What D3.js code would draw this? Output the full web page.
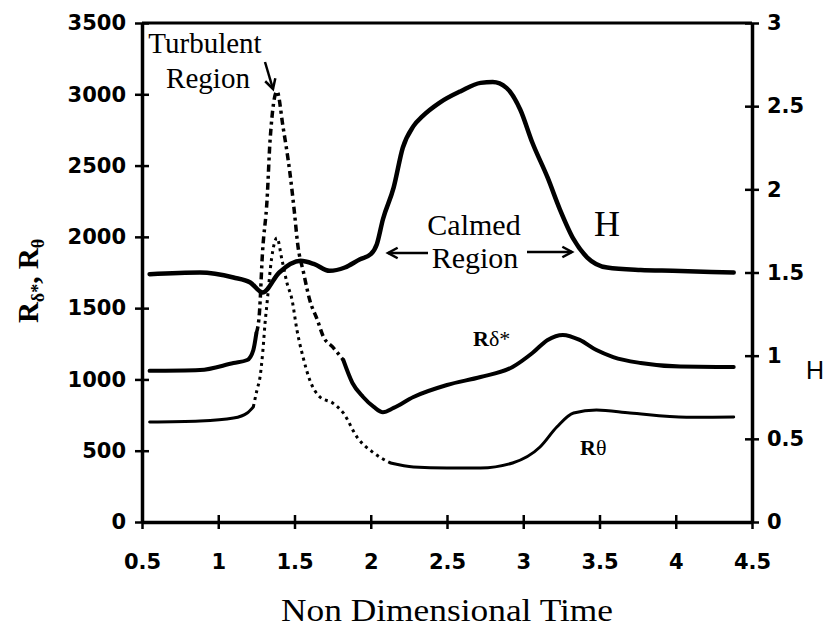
<!DOCTYPE html>
<html>
<head>
<meta charset="utf-8">
<style>
  body { margin: 0; background: #fff; }
  .tick text { font-family: "DejaVu Sans", "Liberation Sans", Arial, sans-serif; font-weight: bold; font-size: 21px; }
  .serif { font-family: "Liberation Serif", "Times New Roman", serif; }
</style>
</head>
<body>
<script src="https://d3js.org/d3.v7.min.js"></script>
<script>
// non dimensional time (x) and values
const hTime = [0.55, 0.88, 1.10, 1.21, 1.29, 1.40, 1.54, 1.63, 1.73, 1.83, 1.93, 2.00, 2.04, 2.08, 2.15, 2.21, 2.28, 2.34, 2.45, 2.59, 2.72, 2.80, 2.89, 2.98, 3.06, 3.16, 3.24, 3.33, 3.42, 3.55, 3.77, 3.98, 4.38]
const hVals = [1.49, 1.50, 1.47, 1.44, 1.38, 1.50, 1.57, 1.55, 1.51, 1.53, 1.58, 1.61, 1.67, 1.82, 2.01, 2.25, 2.38, 2.44, 2.52, 2.59, 2.64, 2.645, 2.61, 2.48, 2.28, 2.07, 1.88, 1.70, 1.59, 1.53, 1.515, 1.51, 1.50]

const rdTime = [0.55, 0.88, 1.10, 1.19, 1.23, 1.25, 1.27, 1.29, 1.32, 1.34, 1.385, 1.425, 1.47, 1.50, 1.52, 1.56, 1.60, 1.65, 1.69, 1.75, 1.82, 1.88, 1.95, 2.02, 2.08, 2.15, 2.28, 2.50, 2.72, 2.93, 3.06, 3.16, 3.26, 3.37, 3.48, 3.59, 3.77, 4.03, 4.38]
const rdVals = [1060, 1066, 1115, 1136, 1206, 1325, 1466, 1887, 2258, 2680, 3020, 2770, 2448, 2167, 1957, 1746, 1557, 1417, 1298, 1228, 1136, 975, 877, 807, 770, 800, 877, 961, 1017, 1087, 1185, 1277, 1312, 1277, 1206, 1157, 1115, 1090, 1087]

const rtTime = [0.55, 0.88, 1.10, 1.19, 1.23, 1.254, 1.274, 1.293, 1.307, 1.32, 1.35, 1.385, 1.418, 1.451, 1.484, 1.516, 1.556, 1.60, 1.667, 1.75, 1.82, 1.91, 2.02, 2.13, 2.28, 2.50, 2.72, 2.93, 3.11, 3.22, 3.33, 3.48, 3.70, 4.07, 4.38]
const rtVals = [701, 708, 729, 765, 807, 926, 1017, 1206, 1396, 1536, 1850, 1992, 1838, 1676, 1557, 1347, 1157, 996, 877, 835, 765, 596, 484, 414, 386, 379, 379, 414, 526, 666, 765, 786, 765, 735, 736]

const xTicks = [0.5, 1, 1.5, 2, 2.5, 3, 3.5, 4, 4.5]
const leftTicks = [0, 500, 1000, 1500, 2000, 2500, 3000, 3500]
const rightTicks = [0, 0.5, 1, 1.5, 2, 2.5, 3]

const w = 832, h = 628
const pl = 142, pr = 752, pt = 23, pb = 522

const svg = d3.select('body').append('svg').attr('width', w).attr('height', h)

const x = d3.scaleLinear().domain([0.5, 4.5]).range([pl, pr])
const yL = d3.scaleLinear().domain([0, 3500]).range([pb, pt])
const yR = d3.scaleLinear().domain([0, 3]).range([pb, pt])

// frame top
svg.append('line').attr('x1', pl).attr('x2', pr).attr('y1', pt).attr('y2', pt)
   .attr('stroke', '#000').attr('stroke-width', 3)

const styleAxis = (g) => {
  g.select('.domain').attr('stroke-width', 3.5)
  g.selectAll('.tick line').attr('stroke-width', 2.5)
}
const plain = d => String(d)

svg.append('g').attr('transform', 'translate(0,' + pb + ')')
   .call(d3.axisBottom(x).tickValues(xTicks).tickSize(7).tickSizeOuter(0).tickPadding(25).tickFormat(plain))
   .call(styleAxis)
   .call(g => g.selectAll('.tick line').attr('y1', -7))

svg.append('g').attr('transform', 'translate(' + pl + ',0)')
   .call(d3.axisLeft(yL).tickValues(leftTicks).tickSize(7).tickSizeOuter(0).tickPadding(9).tickFormat(plain))
   .call(styleAxis)
   .call(g => g.selectAll('.tick line').attr('x1', 7))

svg.append('g').attr('transform', 'translate(' + pr + ',0)')
   .call(d3.axisRight(yR).tickValues(rightTicks).tickSize(7).tickSizeOuter(0).tickPadding(8).tickFormat(plain))
   .call(styleAxis)
   .call(g => g.selectAll('.tick line').attr('x1', -7))

// draws one series in pieces, so the peak part can use a broken stroke
function drawSeries(ts, vs, yScale, pieces) {
  const pts = ts.map((t, i) => [t, vs[i]])
  const line = d3.line().x(d => x(d[0])).y(d => yScale(d[1])).curve(d3.curveMonotoneX)
  pieces.forEach(p => {
    const seg = pts.filter(d => d[0] >= p.from && d[0] <= p.to)
    svg.append('path').datum(seg).attr('d', line)
       .attr('fill', 'none').attr('stroke', '#000')
       .attr('stroke-width', p.width)
       .attr('stroke-dasharray', p.dash || null)
       .attr('stroke-linejoin', 'round').attr('stroke-linecap', p.dash ? 'butt' : 'round')
  })
}

drawSeries(hTime, hVals, yR, [{from: 0, to: 5, width: 4.5}])
drawSeries(rdTime, rdVals, yL, [
  {from: 0, to: 1.25, width: 4},
  {from: 1.25, to: 1.82, width: 3.5, dash: '7,4,3,4'},
  {from: 1.82, to: 5, width: 4}
])
drawSeries(rtTime, rtVals, yL, [
  {from: 0, to: 1.23, width: 3},
  {from: 1.23, to: 2.13, width: 3, dash: '3,4'},
  {from: 2.13, to: 5, width: 3}
])

// annotations
const note = (tx, ty, s, size) => svg.append('text').attr('class', 'serif')
  .attr('x', tx).attr('y', ty).attr('text-anchor', 'middle').attr('font-size', size).text(s)

note(205, 53, 'Turbulent', 29)
note(208, 88, 'Region', 29)
note(474, 235, 'Calmed', 30)
note(475, 268, 'Region', 30)
note(607, 236, 'H', 36)

const arrow = (x1, y1, x2, y2) => {
  svg.append('line').attr('x1', x1).attr('y1', y1).attr('x2', x2).attr('y2', y2)
     .attr('stroke', '#000').attr('stroke-width', 2.5)
  const a = Math.atan2(y2 - y1, x2 - x1), L = 11, s = 0.5
  svg.append('path')
     .attr('d', 'M' + (x2 - L * Math.cos(a - s)) + ',' + (y2 - L * Math.sin(a - s)) + 'L' + x2 + ',' + y2 +
                'L' + (x2 - L * Math.cos(a + s)) + ',' + (y2 - L * Math.sin(a + s)))
     .attr('fill', 'none').attr('stroke', '#000').attr('stroke-width', 2.5)
}
arrow(265, 62, 273, 89)
arrow(428, 253, 388, 253)
arrow(527, 252, 572, 252)

// series labels
const rd = svg.append('text').attr('class', 'serif').attr('x', 473).attr('y', 346).attr('font-size', 22).attr('font-weight', 'bold')
rd.append('tspan').text('R')
rd.append('tspan').attr('font-weight', 'normal').text('δ*')
const rt = svg.append('text').attr('class', 'serif').attr('x', 580).attr('y', 455).attr('font-size', 22).attr('font-weight', 'bold')
rt.append('tspan').text('R')
rt.append('tspan').attr('font-weight', 'normal').text('θ')

// axis titles
svg.append('text').attr('x', 447).attr('y', 621).attr('text-anchor', 'middle')
   .attr('class', 'serif').attr('font-size', 32).attr('textLength', 332).attr('lengthAdjust', 'spacingAndGlyphs')
   .text('Non Dimensional Time')

svg.append('text').attr('x', 806).attr('y', 379)
   .attr('font-family', '"Liberation Sans", Arial, sans-serif').attr('font-size', 25).text('H')

const yl = svg.append('text').attr('class', 'serif').attr('font-size', 29).attr('font-weight', 'bold')
   .attr('text-anchor', 'middle').attr('transform', 'translate(38,281) rotate(-90)')
yl.append('tspan').text('R')
yl.append('tspan').attr('font-size', 18).attr('dy', 6).text('δ*')
yl.append('tspan').attr('dy', -6).text(', R')
yl.append('tspan').attr('font-size', 18).attr('dy', 6).text('θ')
</script>
</body>
</html>
